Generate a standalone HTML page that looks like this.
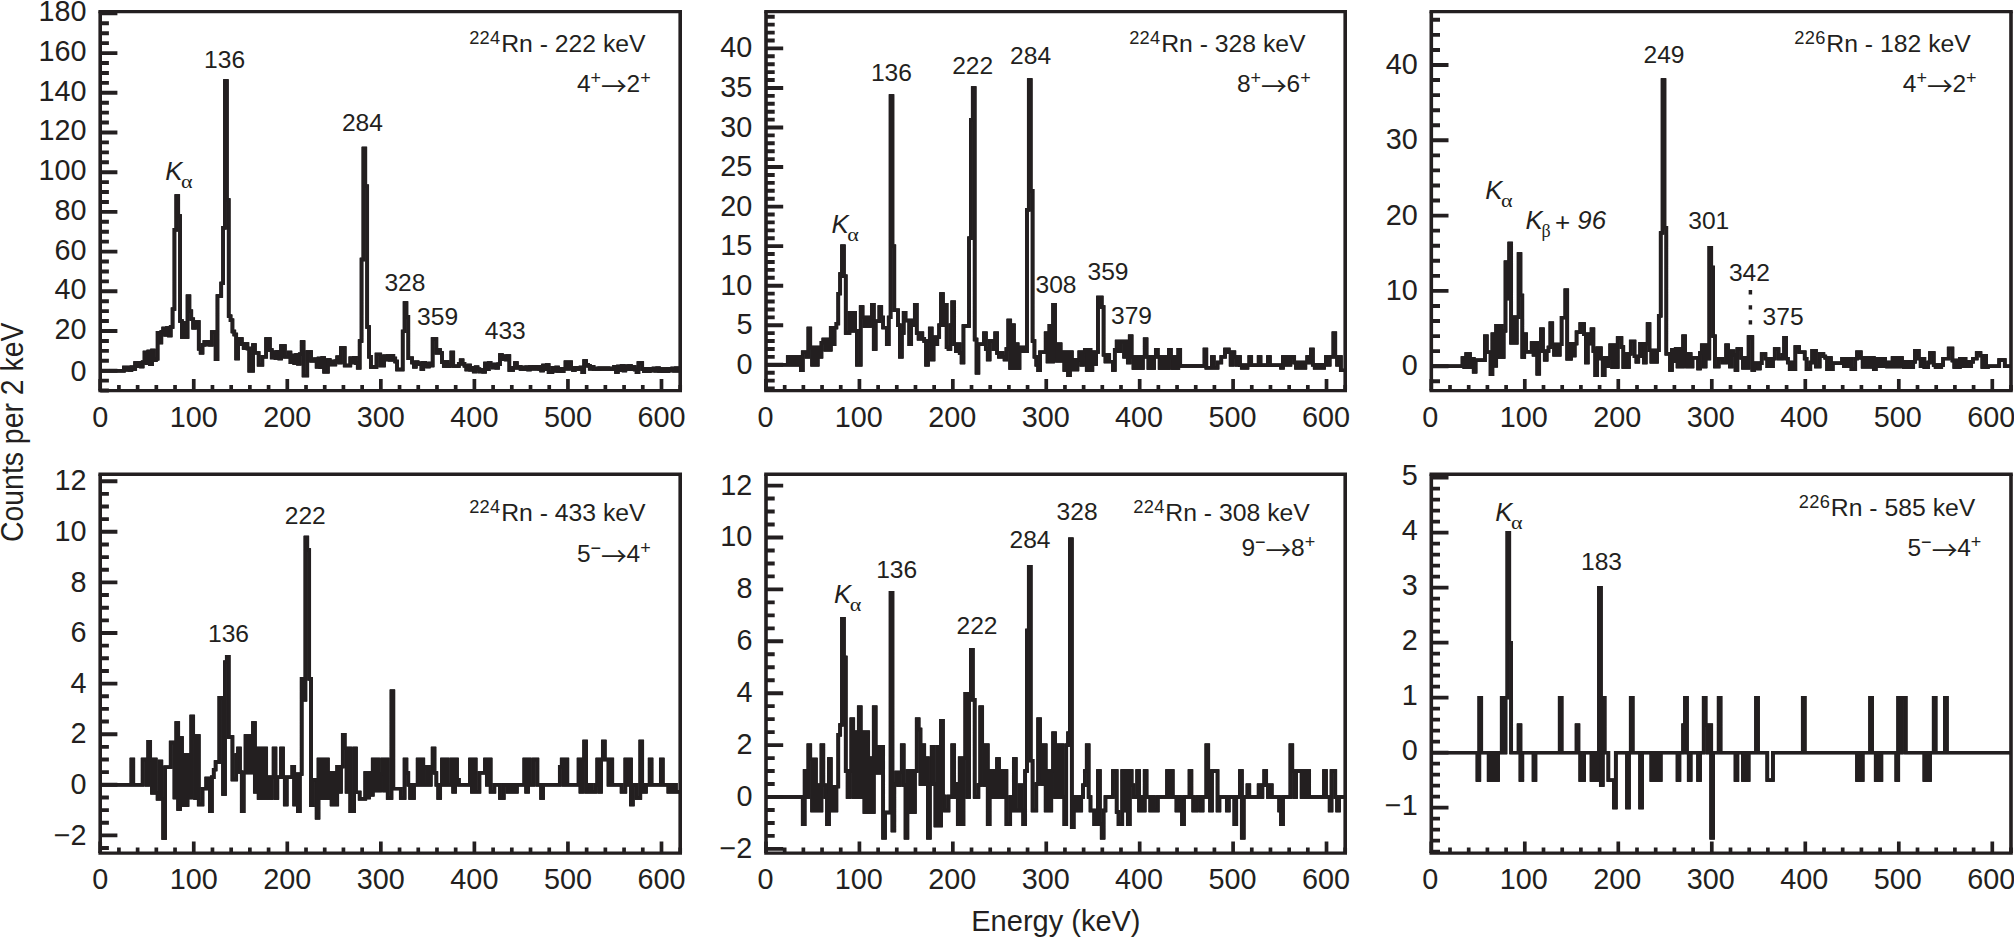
<!DOCTYPE html>
<html lang="en"><head><meta charset="utf-8"><title>Rn gamma-ray spectra</title>
<style>html,body{margin:0;padding:0;background:#fff}svg{display:block}</style></head>
<body>
<svg width="2014" height="937" viewBox="0 0 2014 937" font-family='"Liberation Sans", sans-serif' fill="#231f20">
<rect width="2014" height="937" fill="#fff"/>
<g id="p1"><path id="h1" d="M100.2 370.7H123.92V367.56H125.79V369.83H127.66V367.37H129.54V370.03H131.41V367.17H133.28V369.11H135.15V362.88H137.02V366.35H138.89V362.58H140.76V366.63H142.63V362.3H144.5V352.48H146.37V363.34H148.25V351.52H150.12V364.29H151.99V350.57H153.86V360.2H155.73V358.79H157.6V332.79H159.47V342.45H161.34V332.05H163.21V328.56H165.08V334.91H166.95V327.96H168.83V335.51H170.7V327.03H172.57V309.16H174.44V229.76H176.31V196.02H178.18V215.87H180.05V321.07H181.92V336.95H183.79V323.06H185.66V336.95H187.54V296.26H189.41V311.15H191.28V319.09H193.15V327.82H195.02V322.07H198.76V348.87H200.63V352.83H202.5V344.89H204.37V341.96H206.25V344.58H208.12V341.74H209.99V344.8H211.86V331.99H215.6V359.19H217.47V296.06H221.21V283.36H223.08V227.78H224.95V80.89H226.83V199.99H228.7V316.13H230.57V320.22H232.44V331.44H234.31V334.43H236.18V358.59H238.05V338.94H241.79V344.26H243.66V348.09H245.54V343.88H247.41V348.47H249.28V370.7H253.02V344.89H254.89V352.83H258.63V364.75H262.37V356.81H266.12V338.94H269.86V350.04H271.73V357.5H273.6V352.24H275.47V358.02H277.34V351.74H279.21V358.53H281.08V345.89H284.83V356.81H288.57V352.52H290.44V362.36H292.31V355.55H294.18V363.06H296.05V354.84H297.92V363.75H299.79V354.15H301.66V341.92H303.54V375.66H307.28V351.84H311.02V360.77H314.76V359.15H316.63V366.79H318.5V358.51H320.37V367.42H322.25V357.88H324.12V371.69H327.86V359.96H329.73V364.65H331.6V361.47H333.47V364.43H335.34V361.19H337.21V357.24H339.08V362.58H340.95V348.07H344.7V365.54H350.31V358.23H352.18V362.56H354.05V357.8H355.92V363H357.79V367.72H359.66V340.93H361.54V259.54H363.41V148.38H365.28V186.09H367.15V327.03H369.02V356.81H370.89V366.93H376.5V354.42H380.25V365.54H383.99V356.21H385.86V359.45H387.73V355.95H389.6V359.7H391.47V355.67H393.34V358.53H395.21V361.57H397.08V369.51H402.7V331.4H404.57V303.01H406.44V316.71H408.31V358.19H412.05V362.66H413.92V366.85H415.79V362.26H417.66V363.95H419.54V363.3H421.41V369.05H423.28V362.7H425.15V363.67H427.02V366.53H428.89V363.45H430.76V365.56H432.63V338.94H436.37V352.83H438.25V349.86H440.12V352.83H441.99V362.32H443.86V366.04H445.73V361.99H447.6V366.37H449.47V364.75H451.34V352.44H453.21V366.13H458.83V363.75H460.7V360.18H462.57V363.75H464.44V365.8H466.31V369.57H468.18V365.5H470.05V369.89H471.92V367.64H473.79V371.49H475.66V367.29H477.54V369.23H479.41V371.61H481.28V369.97H483.15V371.77H485.02V363.42H486.89V369.31H488.76V362.96H490.63V364.76H492.5V367.58H494.37V364.49H496.25V367.84H498.12V364.21H499.99V355.02H501.86V359.19H503.73V356.19H505.6V359.46H507.47V355.91H509.34V370.1H513.08V367.72H514.95V362.96H516.83V367.72H518.7V366.59H520.57V369.09H522.44V367.33H524.31V369.25H526.18V367.15H528.05V369.43H529.92V366.97H531.79V368.7H533.66V366.81H535.54V368.87H537.41V366.63H539.28V369.13H541.15V370.56H543.02V365.36H544.89V369.37H546.76V365H548.63V372.29H552.37V367.74H554.25V370.8H556.12V367.48H557.99V371.06H559.86V368.64H561.73V371.34H563.6V368.71H565.47V362.16H567.34V368.71H569.21V362.16H571.08V368.14H572.95V370.16H574.83V367.96H576.7V367.62H578.57V369.27H580.44V367.5H582.31V372.29H584.18V361.07H586.05V364.75H587.92V365.82H589.79V368.79H591.66V366.71H593.54V368.99H595.41V368.38H597.28V369.27H599.15V368.3H601.02V368.97H602.89V368.24H604.76V369.05H606.63V368.18H608.5V369.11H610.37V368.46H612.25V369.19H614.12V366.79H615.99V371.93H617.86V366.39H619.73V370.16H621.6V365.98H623.47V370.58H625.34V366.15H627.21V369.01H629.08V365.96H630.95V369.23H632.83V366.87H634.7V369.45H636.57V372.29H638.44V362.96H642.18V368.99H644.05V371.24H645.92V368.79H647.79V371.41H649.66V368.6H651.54V370.6H653.41V368.42H655.28V370.78H657.15V368.22H659.02V370.98H660.89V369.05H662.76V371.18H664.63V368.85H666.5V371.36H668.37V368.68H670.25V370.54H672.12V368.48H673.99V370.72H675.86V368.28H677.73V370.92H680.2" fill="none" stroke="#231f20" stroke-width="3.4" stroke-linejoin="miter" stroke-miterlimit="10"/><use href="#h1" x="-0.22"/><use href="#h1" x="0.22"/>
<path d="M100.2 390.6v-11.5M118.91 390.6v-5.5M137.62 390.6v-5.5M156.33 390.6v-5.5M175.04 390.6v-5.5M193.75 390.6v-11.5M212.46 390.6v-5.5M231.17 390.6v-5.5M249.88 390.6v-5.5M268.59 390.6v-5.5M287.3 390.6v-11.5M306.01 390.6v-5.5M324.72 390.6v-5.5M343.43 390.6v-5.5M362.14 390.6v-5.5M380.85 390.6v-11.5M399.55 390.6v-5.5M418.26 390.6v-5.5M436.97 390.6v-5.5M455.68 390.6v-5.5M474.39 390.6v-11.5M493.1 390.6v-5.5M511.81 390.6v-5.5M530.52 390.6v-5.5M549.23 390.6v-5.5M567.94 390.6v-11.5M586.65 390.6v-5.5M605.36 390.6v-5.5M624.07 390.6v-5.5M642.78 390.6v-5.5M661.49 390.6v-11.5M680.2 390.6v-5.5" fill="none" stroke="#231f20" stroke-width="3.7"/><path d="M100.2 390.55h8.7M100.2 380.62h8.7M100.2 370.7h17.2M100.2 360.77h8.7M100.2 350.85h8.7M100.2 340.93h8.7M100.2 331h17.2M100.2 321.07h8.7M100.2 311.15h8.7M100.2 301.22h8.7M100.2 291.3h17.2M100.2 281.38h8.7M100.2 271.45h8.7M100.2 261.52h8.7M100.2 251.6h17.2M100.2 241.67h8.7M100.2 231.75h8.7M100.2 221.82h8.7M100.2 211.9h17.2M100.2 201.97h8.7M100.2 192.05h8.7M100.2 182.12h8.7M100.2 172.2h17.2M100.2 162.27h8.7M100.2 152.35h8.7M100.2 142.42h8.7M100.2 132.5h17.2M100.2 122.57h8.7M100.2 112.65h8.7M100.2 102.72h8.7M100.2 92.8h17.2M100.2 82.88h8.7M100.2 72.95h8.7M100.2 63.02h8.7M100.2 53.1h17.2M100.2 43.17h8.7M100.2 33.25h8.7M100.2 23.32h8.7M100.2 13.4h17.2" fill="none" stroke="#231f20" stroke-width="3.9"/>
<path d="M98.4 11.6H682M98.4 390.6H682" fill="none" stroke="#231f20" stroke-width="3.4"/><path d="M100.2 11.6V390.6M680.2 11.6V390.6" fill="none" stroke="#231f20" stroke-width="3.6"/>
<g font-size="28.8"><text x="100.2" y="427.2" text-anchor="middle">0</text><text x="193.75" y="427.2" text-anchor="middle">100</text><text x="287.3" y="427.2" text-anchor="middle">200</text><text x="380.85" y="427.2" text-anchor="middle">300</text><text x="474.39" y="427.2" text-anchor="middle">400</text><text x="567.94" y="427.2" text-anchor="middle">500</text><text x="661.49" y="427.2" text-anchor="middle">600</text><text x="86.6" y="380.6" text-anchor="end">0</text><text x="86.6" y="338.9" text-anchor="end">20</text><text x="86.6" y="299.2" text-anchor="end">40</text><text x="86.6" y="259.5" text-anchor="end">60</text><text x="86.6" y="219.8" text-anchor="end">80</text><text x="86.6" y="180.1" text-anchor="end">100</text><text x="86.6" y="140.4" text-anchor="end">120</text><text x="86.6" y="100.7" text-anchor="end">140</text><text x="86.6" y="61" text-anchor="end">160</text><text x="86.6" y="21.3" text-anchor="end">180</text></g></g>
<g id="p2"><path id="h2" d="M766 364.8H787.82V356.89H789.69V364.8H791.56V356.89H793.43V364.8H795.29V356.89H797.16V364.8H799.03V356.89H800.9V370.34H802.77V352.14H806.5V356.89H808.37V328.41H810.24V347.4H812.11V364.8H813.98V347.4H815.85V364.8H817.71V347.4H819.58V356.89H821.45V342.65H823.32V339.49H825.19V349.77H827.06V339.49H828.93V349.77H830.79V327.62H832.66V344.23H834.53V327.62H836.4V323.67H838.27V293.61H840.14V273.84H842V246.15H843.87V276.21H845.74V333.16H849.48V312.59H851.35V330.79H853.21V312.59H855.08V330.79H856.95V364.8H860.69V307.06H862.56V317.34H864.42V326.04H866.29V317.34H868.16V326.04H870.03V317.34H871.9V304.68H873.77V348.98H875.63V321.3H879.37V307.06H881.24V317.34H883.11V327.62H886.85V344.23H888.71V317.34H890.58V95.86H892.45V246.15H894.32V310.22H898.06V325.25H899.92V356.89H901.79V333.16H903.66V312.59H905.53V320.5H909.27V344.23H911.13V320.5H913V325.25H914.87V304.68H916.74V333.16H918.61V338.7H920.48V333.16H922.34V338.7H924.21V341.07H926.08V364.8H927.95V341.07H929.82V328.41H931.69V359.66H933.55V337.12H935.42V344.23H937.29V337.12H939.16V325.25H941.03V294.01H942.9V325.25H944.77V304.68H946.63V347.4H948.5V348.98H950.37V325.25H952.24V302.31H954.11V344.23H955.98V351.35H957.84V344.23H959.71V352.94H961.58V362.43H963.45V326.04H969.05V238.24H970.92V119.59H972.79V87.95H974.66V339.49H976.53V372.71H978.4V344.23H984V333.16H985.87V348.98H987.74V359.66H989.61V341.07H993.34V348.98H995.21V333.16H997.08V352.94H998.95V356.89H1000.82V352.94H1002.69V356.89H1004.55V359.66H1006.42V348.98H1008.29V320.5H1010.16V367.96H1012.03V325.25H1013.9V367.96H1015.76V344.23H1017.63V367.96H1019.5V347.4H1021.37V351.35H1023.24V347.4H1025.11V351.35H1026.97V209.76H1028.84V80.04H1030.71V190.78H1032.58V341.07H1034.45V356.89H1036.32V364.8H1038.18V370.34H1040.05V352.14H1045.66V333.16H1047.53V361.64H1049.39V325.72H1051.26V361.64H1053.13V304.68H1055V344.23H1056.87V360.85H1058.74V344.23H1060.61V360.85H1062.47V352.14H1064.34V370.1H1066.21V352.14H1068.08V375.32H1069.95V352.14H1071.82V369.55H1073.68V360.05H1075.55V369.55H1077.42V360.05H1079.29V352.14H1081.16V364.8H1083.03V352.14H1084.89V349.77H1086.76V370.1H1088.63V349.77H1090.5V370.1H1092.37V352.14H1094.24V364.01H1096.1V352.14H1097.97V297.56H1101.71V307.06H1103.58V354.83H1105.45V361.64H1107.31V354.83H1109.18V361.64H1112.92V370.1H1114.79V349.77H1116.66V341.47H1118.53V351.35H1120.39V341.47H1124.13V356.89H1126V341.47H1127.87V362.43H1129.74V336.32H1131.6V356.89H1133.47V367.96H1135.34V356.89H1137.21V367.96H1139.08V356.89H1140.95V367.96H1142.81V356.89H1144.68V339.17H1146.55V356.89H1148.42V367.96H1150.29V356.89H1152.16V367.96H1154.02V356.89H1155.89V349.77H1157.76V356.89H1159.63V367.96H1161.5V356.89H1163.37V367.96H1165.23V356.89H1167.1V367.96H1168.97V349.77H1170.84V356.89H1172.71V367.96H1174.58V356.89H1176.45V367.96H1178.31V349.77H1180.18V365.99H1204.47V349.38H1206.34V367.73H1211.94V356.89H1213.81V367.73H1217.55V362.43H1221.29V356.89H1225.02V349.38H1228.76V352.14H1230.63V364.8H1232.5V352.14H1234.37V356.89H1236.23V364.8H1238.1V356.89H1239.97V365.2H1241.84V367.73H1243.71V365.2H1245.58V367.73H1247.44V365.2H1249.31V356.89H1251.18V365.2H1258.65V356.89H1260.52V365.2H1268V356.89H1269.86V365.2H1281.07V367.73H1282.94V356.89H1284.81V364.8H1286.68V356.89H1288.55V364.8H1290.42V356.89H1294.15V362.43H1296.02V367.73H1297.89V362.43H1299.76V367.73H1301.63V362.43H1303.5V367.73H1305.36V362.43H1307.23V356.89H1309.1V362.43H1310.97V349.38H1312.84V364.8H1314.71V367.73H1316.57V364.8H1318.44V367.73H1320.31V364.8H1322.18V367.73H1324.05V364.8H1325.92V356.89H1327.78V364.8H1329.65V356.89H1333.39V333.16H1335.26V356.89H1337.13V364.8H1338.99V356.89H1340.86V370.34H1345.2" fill="none" stroke="#231f20" stroke-width="3.4" stroke-linejoin="miter" stroke-miterlimit="10"/><use href="#h2" x="-0.22"/><use href="#h2" x="0.22"/>
<path d="M766 390.6v-11.5M784.68 390.6v-5.5M803.37 390.6v-5.5M822.05 390.6v-5.5M840.74 390.6v-5.5M859.42 390.6v-11.5M878.1 390.6v-5.5M896.79 390.6v-5.5M915.47 390.6v-5.5M934.15 390.6v-5.5M952.84 390.6v-11.5M971.52 390.6v-5.5M990.21 390.6v-5.5M1008.89 390.6v-5.5M1027.57 390.6v-5.5M1046.26 390.6v-11.5M1064.94 390.6v-5.5M1083.63 390.6v-5.5M1102.31 390.6v-5.5M1120.99 390.6v-5.5M1139.68 390.6v-11.5M1158.36 390.6v-5.5M1177.05 390.6v-5.5M1195.73 390.6v-5.5M1214.41 390.6v-5.5M1233.1 390.6v-11.5M1251.78 390.6v-5.5M1270.46 390.6v-5.5M1289.15 390.6v-5.5M1307.83 390.6v-5.5M1326.52 390.6v-11.5M1345.2 390.6v-5.5" fill="none" stroke="#231f20" stroke-width="3.7"/><path d="M766 388.53h8.7M766 380.62h8.7M766 372.71h8.7M766 364.8h17.2M766 356.89h8.7M766 348.98h8.7M766 341.07h8.7M766 333.16h8.7M766 325.25h17.2M766 317.34h8.7M766 309.43h8.7M766 301.52h8.7M766 293.61h8.7M766 285.7h17.2M766 277.79h8.7M766 269.88h8.7M766 261.97h8.7M766 254.06h8.7M766 246.15h17.2M766 238.24h8.7M766 230.33h8.7M766 222.42h8.7M766 214.51h8.7M766 206.6h17.2M766 198.69h8.7M766 190.78h8.7M766 182.87h8.7M766 174.96h8.7M766 167.05h17.2M766 159.14h8.7M766 151.23h8.7M766 143.32h8.7M766 135.41h8.7M766 127.5h17.2M766 119.59h8.7M766 111.68h8.7M766 103.77h8.7M766 95.86h8.7M766 87.95h17.2M766 80.04h8.7M766 72.13h8.7M766 64.22h8.7M766 56.31h8.7M766 48.4h17.2M766 40.49h8.7M766 32.58h8.7M766 24.67h8.7M766 16.76h8.7" fill="none" stroke="#231f20" stroke-width="3.9"/>
<path d="M764.2 11.6H1347M764.2 390.6H1347" fill="none" stroke="#231f20" stroke-width="3.4"/><path d="M766 11.6V390.6M1345.2 11.6V390.6" fill="none" stroke="#231f20" stroke-width="3.6"/>
<g font-size="28.8"><text x="765.4" y="427.2" text-anchor="middle">0</text><text x="858.82" y="427.2" text-anchor="middle">100</text><text x="952.24" y="427.2" text-anchor="middle">200</text><text x="1045.66" y="427.2" text-anchor="middle">300</text><text x="1139.08" y="427.2" text-anchor="middle">400</text><text x="1232.5" y="427.2" text-anchor="middle">500</text><text x="1325.92" y="427.2" text-anchor="middle">600</text><text x="752.4" y="373.8" text-anchor="end">0</text><text x="752.4" y="334.25" text-anchor="end">5</text><text x="752.4" y="294.7" text-anchor="end">10</text><text x="752.4" y="255.15" text-anchor="end">15</text><text x="752.4" y="215.6" text-anchor="end">20</text><text x="752.4" y="176.05" text-anchor="end">25</text><text x="752.4" y="136.5" text-anchor="end">30</text><text x="752.4" y="96.95" text-anchor="end">35</text><text x="752.4" y="57.4" text-anchor="end">40</text></g></g>
<g id="p3"><path id="h3" d="M1431.3 366.2H1462.49V358.07H1464.36V367.4H1466.23V353.85H1469.97V367.4H1471.84V358.67H1473.71V371.7H1475.58V360.18H1484.93V336.08H1486.8V352.12H1490.54V374.26H1492.41V334.2H1494.28V365.75H1496.15V325.69H1498.02V357.16H1499.89V325.69H1501.76V357.16H1503.63V330.81H1505.5V262.29H1507.37V298.43H1509.24V243.46H1511.11V342.86H1512.98V317.25H1514.85V342.86H1516.72V317.25H1518.59V254H1520.46V295.42H1522.33V357.16H1524.2V334.2H1526.07V351.89H1531.68V342.86H1533.55V354.9H1535.42V342.86H1537.29V373.73H1539.16V351.14H1541.03V329.3H1542.9V351.14H1544.77V359.72H1546.64V351.14H1548.51V347.38H1550.38V323.28H1552.25V344.36H1554.12V354.9H1555.99V344.36H1557.86V354.9H1559.73V344.36H1561.6V317.63H1565.34V290.15H1567.21V358.9H1570.95V343.61H1572.82V355.66H1574.69V343.61H1576.56V332.31H1580.3V324.03H1584.04V334.2H1585.91V362.44H1587.78V334.2H1589.65V343.61H1591.52V329.3H1593.39V351.14H1595.26V375.24H1597.13V348.13H1600.87V358.67H1602.74V375.24H1604.61V357.92H1606.48V366.2H1608.35V357.92H1610.22V345.12H1612.09V366.95H1613.96V345.12H1615.83V366.95H1617.7V337.96H1621.44V347H1623.31V366.95H1625.18V353.85H1627.05V366.95H1628.92V353.85H1630.79V341.35H1634.53V356.41H1636.4V361.68H1638.27V356.41H1640.14V343.61H1643.88V362.44H1645.75V343.61H1647.62V324.03H1649.49V350.39H1651.36V361.68H1653.23V350.39H1655.1V361.68H1656.97V350.39H1658.84V315.75H1660.71V232.92H1662.58V80.06H1664.45V227.65H1666.32V353.85H1670.06V369.96H1671.93V349.63H1673.8V360.93H1675.67V348.88H1677.54V366.58H1679.41V348.88H1681.28V366.58H1683.15V336.08H1685.02V353.85H1686.89V366.58H1688.76V353.85H1690.63V366.58H1692.5V357.92H1698.11V368.46H1699.98V352.95H1701.85V345.27H1703.72V366.58H1705.59V345.27H1707.46V358.67H1709.33V247.6H1711.2V267.56H1713.07V336.08H1714.94V366.58H1718.68V358.67H1722.42V362.44H1726.16V345.12H1728.03V351.14H1729.9V366.58H1731.77V351.14H1733.64V354.9H1735.51V369.96H1737.38V348.88H1741.12V357.92H1742.99V367.71H1744.86V357.92H1746.73V367.71H1748.6V336.83H1752.34V369.96H1754.21V363.19H1757.95V368.46H1759.82V363.19H1761.69V353.85H1765.43V358.67H1767.3V366.2H1769.17V358.67H1771.04V366.2H1772.91V358.67H1774.78V348.88H1778.52V358.67H1782.26V354.9H1784.13V337.59H1786V358.67H1787.87V362.44H1789.74V369.21H1791.61V362.44H1793.48V369.21H1795.35V347H1799.09V352.12H1804.7V358.67H1806.57V369.21H1810.31V362.44H1812.18V350.76H1815.92V366.58H1819.66V353.85H1823.4V356.41H1825.27V357.92H1827.14V369.21H1829.01V357.92H1830.88V369.21H1832.75V363.19H1842.1V358.67H1843.97V366.2H1845.84V358.67H1847.71V366.2H1849.58V358.67H1851.45V369.21H1855.19V358.67H1857.06V352.27H1860.8V357.92H1862.67V366.73H1864.54V357.92H1866.41V366.73H1868.28V357.92H1870.15V366.73H1872.02V357.92H1873.89V369.21H1875.76V358.67H1877.63V366.2H1879.5V358.67H1881.37V366.2H1883.24V358.67H1885.11V362.44H1886.98V366.58H1888.85V362.44H1890.72V366.58H1892.59V357.92H1894.46V366.58H1896.33V357.92H1898.2V366.58H1900.07V357.92H1901.94V361.68H1903.81V366.95H1905.68V361.68H1907.55V366.95H1909.42V361.68H1911.29V366.95H1913.16V361.68H1915.03V350.76H1918.77V358.67H1920.64V366.2H1922.51V358.67H1924.38V367.33H1928.12V362.44H1929.99V352.87H1933.73V365.07H1935.6V366.95H1937.47V365.07H1939.34V366.95H1941.21V365.07H1943.08V358.67H1948.69V348.43H1952.43V360.55H1954.3V366.95H1956.17V360.55H1958.04V366.95H1959.91V358.67H1961.78V366.2H1963.65V358.67H1965.52V366.2H1967.39V361.68H1969.26V366.2H1971.13V361.68H1973V358.67H1976.74V352.87H1980.48V355.66H1982.35V366.95H1984.22V355.66H1986.09V366.95H1987.96V366.2H1999.18V359.95H2004.79V366.2H2011" fill="none" stroke="#231f20" stroke-width="3.4" stroke-linejoin="miter" stroke-miterlimit="10"/><use href="#h3" x="-0.22"/><use href="#h3" x="0.22"/>
<path d="M1431.3 390.6v-11.5M1450 390.6v-5.5M1468.7 390.6v-5.5M1487.4 390.6v-5.5M1506.1 390.6v-5.5M1524.8 390.6v-11.5M1543.5 390.6v-5.5M1562.2 390.6v-5.5M1580.9 390.6v-5.5M1599.6 390.6v-5.5M1618.3 390.6v-11.5M1637 390.6v-5.5M1655.7 390.6v-5.5M1674.4 390.6v-5.5M1693.1 390.6v-5.5M1711.8 390.6v-11.5M1730.5 390.6v-5.5M1749.2 390.6v-5.5M1767.9 390.6v-5.5M1786.6 390.6v-5.5M1805.3 390.6v-11.5M1824 390.6v-5.5M1842.7 390.6v-5.5M1861.4 390.6v-5.5M1880.1 390.6v-5.5M1898.8 390.6v-11.5M1917.5 390.6v-5.5M1936.2 390.6v-5.5M1954.9 390.6v-5.5M1973.6 390.6v-5.5M1992.3 390.6v-11.5M2011 390.6v-5.5" fill="none" stroke="#231f20" stroke-width="3.7"/><path d="M1431.3 381.26h8.7M1431.3 366.2h17.2M1431.3 351.14h8.7M1431.3 336.08h8.7M1431.3 321.02h8.7M1431.3 305.96h8.7M1431.3 290.9h17.2M1431.3 275.84h8.7M1431.3 260.78h8.7M1431.3 245.72h8.7M1431.3 230.66h8.7M1431.3 215.6h17.2M1431.3 200.54h8.7M1431.3 185.48h8.7M1431.3 170.42h8.7M1431.3 155.36h8.7M1431.3 140.3h17.2M1431.3 125.24h8.7M1431.3 110.18h8.7M1431.3 95.12h8.7M1431.3 80.06h8.7M1431.3 65h17.2M1431.3 49.94h8.7M1431.3 34.88h8.7M1431.3 19.82h8.7" fill="none" stroke="#231f20" stroke-width="3.9"/>
<path d="M1429.5 11.6H2012.8M1429.5 390.6H2012.8" fill="none" stroke="#231f20" stroke-width="3.4"/><path d="M1431.3 11.6V390.6M2011 11.6V390.6" fill="none" stroke="#231f20" stroke-width="3.6"/>
<g font-size="28.8"><text x="1430.2" y="427.2" text-anchor="middle">0</text><text x="1523.7" y="427.2" text-anchor="middle">100</text><text x="1617.2" y="427.2" text-anchor="middle">200</text><text x="1710.7" y="427.2" text-anchor="middle">300</text><text x="1804.2" y="427.2" text-anchor="middle">400</text><text x="1897.7" y="427.2" text-anchor="middle">500</text><text x="1991.2" y="427.2" text-anchor="middle">600</text><text x="1417.7" y="375.2" text-anchor="end">0</text><text x="1417.7" y="299.9" text-anchor="end">10</text><text x="1417.7" y="224.6" text-anchor="end">20</text><text x="1417.7" y="149.3" text-anchor="end">30</text><text x="1417.7" y="74" text-anchor="end">40</text></g></g>
<g id="p4"><path id="h4" d="M100.2 784.8H131.41V759.5H133.28V784.8H142.63V759.5H146.37V784.8H148.25V741.79H150.12V759.5H151.99V792.9H153.86V759.5H155.73V792.9H157.6V798.71H159.47V761.52H161.34V798.71H163.21V837.93H165.08V767.09H170.7V742.55H174.44V797.45H176.31V723.07H178.18V809.09H180.05V737.99H181.92V805.04H183.79V754.95H185.66V805.04H187.54V754.95H189.41V797.45H191.28V716.49H193.15V735.97H195.02V797.96H196.89V735.97H198.76V804.53H202.5V788.59H206.25V778.47H209.99V811.37H211.86V777.21H213.73V769.62H215.6V762.03H219.34V697.77H223.08V794.16H224.95V662.09H226.83V656.78H228.7V736.98H232.44V779.49H236.18V754.95H238.05V748.37H239.92V772.15H241.79V811.37H243.66V772.66H245.54V735.97H247.41V772.66H249.28V735.97H251.15V772.66H253.02V723.07H254.89V791.88H256.76V748.37H258.63V797.96H260.5V748.37H262.37V797.96H264.25V748.37H266.12V797.96H267.99V777.21H269.86V797.96H271.73V777.21H273.6V748.37H275.47V797.96H277.34V777.21H281.08V748.37H282.95V777.21H284.83V804.53H286.7V777.21H292.31V766.58H294.18V804.53H296.05V774.17H297.92V811.37H299.79V774.17H301.66V678.79H303.54V699.79H305.41V537.37H307.28V550.02H309.15V678.79H311.02V805.29H312.89V779.74H316.63V817.69H318.5V759.5H320.37V797.96H322.25V759.5H324.12V797.96H325.99V759.5H327.86V797.96H329.73V772.91H331.6V804.53H333.47V772.91H335.34V804.53H337.21V766.58H339.08V791.88H340.95V766.58H342.83V734.71H344.7V748.37H346.57V791.88H348.44V748.37H350.31V811.37H354.05V748.37H355.92V792.39H359.66V798.71H365.28V772.91H367.15V797.45H369.02V772.91H370.89V794.92H372.76V759.5H374.63V790.62H376.5V759.5H378.37V790.62H380.25V774.17H382.12V759.5H383.99V790.62H385.86V759.5H387.73V797.96H391.47V691.19H393.34V788.59H400.83V797.96H404.57V759.5H406.44V772.91H408.31V784.8H410.18V797.96H413.92V784.8H417.66V759.5H419.54V784.8H421.41V759.5H423.28V784.8H427.02V766.58H428.89V784.8H430.76V772.15H432.63V748.37H434.5V772.91H436.37V784.8H438.25V797.96H440.12V784.8H441.99V759.5H443.86V784.8H445.73V759.5H447.6V784.8H451.34V759.5H453.21V791.88H455.08V759.5H456.95V779.74H458.83V784.8H470.05V759.5H471.92V791.88H473.79V759.5H475.66V791.88H479.41V772.91H485.02V759.5H486.89V784.8H488.76V759.5H490.63V791.88H494.37V784.8H499.99V797.96H503.73V784.8H507.47V791.88H509.34V784.8H511.21V791.88H513.08V784.8H514.95V791.88H516.83V784.8H524.31V759.5H526.18V791.88H528.05V759.5H529.92V784.8H533.66V759.5H537.41V784.8H541.15V797.96H543.02V784.8H559.86V766.58H561.73V759.5H563.6V784.8H565.47V759.5H567.34V784.8H578.57V759.5H580.44V791.88H582.31V759.5H584.18V741.54H586.05V791.88H589.79V784.8H591.66V791.88H595.41V784.8H597.28V759.5H599.15V791.88H601.02V759.5H602.89V741.54H604.76V759.5H608.5V784.8H610.37V759.5H612.25V784.8H621.6V791.88H625.34V759.5H627.21V784.8H629.08V759.5H630.95V804.53H632.83V784.8H636.57V797.96H640.31V741.54H642.18V791.88H645.92V784.8H649.66V759.5H651.54V784.8H660.89V759.5H662.76V784.8H668.37V791.88H670.25V784.8H672.12V791.88H673.99V784.8H675.86V791.88H680.2" fill="none" stroke="#231f20" stroke-width="3.4" stroke-linejoin="miter" stroke-miterlimit="10"/><use href="#h4" x="-0.22"/><use href="#h4" x="0.22"/>
<path d="M100.2 853.1v-11.5M118.91 853.1v-5.5M137.62 853.1v-5.5M156.33 853.1v-5.5M175.04 853.1v-5.5M193.75 853.1v-11.5M212.46 853.1v-5.5M231.17 853.1v-5.5M249.88 853.1v-5.5M268.59 853.1v-5.5M287.3 853.1v-11.5M306.01 853.1v-5.5M324.72 853.1v-5.5M343.43 853.1v-5.5M362.14 853.1v-5.5M380.85 853.1v-11.5M399.55 853.1v-5.5M418.26 853.1v-5.5M436.97 853.1v-5.5M455.68 853.1v-5.5M474.39 853.1v-11.5M493.1 853.1v-5.5M511.81 853.1v-5.5M530.52 853.1v-5.5M549.23 853.1v-5.5M567.94 853.1v-11.5M586.65 853.1v-5.5M605.36 853.1v-5.5M624.07 853.1v-5.5M642.78 853.1v-5.5M661.49 853.1v-11.5M680.2 853.1v-5.5" fill="none" stroke="#231f20" stroke-width="3.7"/><path d="M100.2 848.05h8.7M100.2 835.4h17.2M100.2 822.75h8.7M100.2 810.1h8.7M100.2 797.45h8.7M100.2 784.8h17.2M100.2 772.15h8.7M100.2 759.5h8.7M100.2 746.85h8.7M100.2 734.2h17.2M100.2 721.55h8.7M100.2 708.9h8.7M100.2 696.25h8.7M100.2 683.6h17.2M100.2 670.95h8.7M100.2 658.3h8.7M100.2 645.65h8.7M100.2 633h17.2M100.2 620.35h8.7M100.2 607.7h8.7M100.2 595.05h8.7M100.2 582.4h17.2M100.2 569.75h8.7M100.2 557.1h8.7M100.2 544.45h8.7M100.2 531.8h17.2M100.2 519.15h8.7M100.2 506.5h8.7M100.2 493.85h8.7M100.2 481.2h17.2" fill="none" stroke="#231f20" stroke-width="3.9"/>
<path d="M98.4 474.2H682M98.4 853.1H682" fill="none" stroke="#231f20" stroke-width="3.4"/><path d="M100.2 474.2V853.1M680.2 474.2V853.1" fill="none" stroke="#231f20" stroke-width="3.6"/>
<g font-size="28.8"><text x="100.2" y="889.1" text-anchor="middle">0</text><text x="193.75" y="889.1" text-anchor="middle">100</text><text x="287.3" y="889.1" text-anchor="middle">200</text><text x="380.85" y="889.1" text-anchor="middle">300</text><text x="474.39" y="889.1" text-anchor="middle">400</text><text x="567.94" y="889.1" text-anchor="middle">500</text><text x="661.49" y="889.1" text-anchor="middle">600</text><text x="86.6" y="844.6" text-anchor="end">−2</text><text x="86.6" y="794" text-anchor="end">0</text><text x="86.6" y="743.4" text-anchor="end">2</text><text x="86.6" y="692.8" text-anchor="end">4</text><text x="86.6" y="642.2" text-anchor="end">6</text><text x="86.6" y="591.6" text-anchor="end">8</text><text x="86.6" y="541" text-anchor="end">10</text><text x="86.6" y="490.4" text-anchor="end">12</text></g></g>
<g id="p5"><path id="h5" d="M766 797H802.77V824.25H804.64V771.05H806.5V797H808.37V745.1H810.24V759.37H812.11V810.49H813.98V759.37H815.85V810.49H817.71V785.32H819.58V810.49H821.45V745.1H823.32V785.32H825.19V797H827.06V824.25H828.93V758.85H830.79V810.49H832.66V786.62H834.53V810.49H836.4V786.62H838.27V734.72H840.14V724.86H842V618.72H843.87V657.39H845.74V771.05H847.61V797H849.48V771.05H851.35V719.15H853.21V797H855.08V732.12H856.95V797H858.82V707.21H860.69V797H862.56V732.12H864.42V812.05H866.29V732.12H868.16V812.05H870.03V758.08H871.9V812.05H873.77V707.21H875.63V772.87H877.5V746.66H879.37V772.87H881.24V746.66H883.11V837.74H884.98V812.57H890.58V592.77H892.45V830.48H894.32V784.02H896.19V772.35H898.06V785.06H899.92V772.35H901.79V745.1H903.66V785.06H905.53V837.74H907.4V771.05H909.27V812.05H911.13V771.05H913V812.05H914.87V771.05H916.74V719.15H918.61V729.53H920.48V784.02H922.34V745.1H924.21V784.02H926.08V758.08H927.95V837.74H929.82V784.02H931.69V746.66H933.55V784.02H935.42V825.54H937.29V746.66H939.16V825.54H941.03V720.71H942.9V796.48H944.77V810.49H948.5V796.48H950.37V797H952.24V745.1H954.11V797H955.98V784.02H957.84V824.25H959.71V758.08H961.58V824.25H963.45V758.08H965.32V693.72H967.19V797H969.05V693.72H970.92V649.6H972.79V699.69H974.66V797H978.4V785.06H980.26V707.21H982.13V745.1H984V785.06H985.87V745.1H987.74V824.25H989.61V771.05H991.47V797H993.34V771.05H995.21V797H997.08V758.85H998.95V797H1000.82V771.05H1002.69V797H1004.55V771.05H1006.42V824.25H1010.16V797H1012.03V810.49H1013.9V758.85H1015.76V810.49H1019.5V785.32H1021.37V810.49H1023.24V824.25H1025.11V771.05H1026.97V630.4H1028.84V566.82H1030.71V760.67H1032.58V810.49H1036.32V784.02H1038.18V719.15H1040.05V745.1H1041.92V784.02H1043.79V745.1H1045.66V810.49H1047.53V771.05H1049.39V810.49H1051.26V771.05H1053.13V733.16H1055V797H1056.87V745.1H1058.74V797H1060.61V745.1H1062.47V797H1064.34V824.25H1066.21V745.1H1068.08V733.16H1069.95V539.32H1071.82V827.36H1073.68V797H1075.55V810.49H1077.42V797H1079.29V810.49H1081.16V797H1083.03V785.32H1084.89V771.05H1086.76V745.1H1088.63V797H1090.5V810.49H1094.24V824.25H1097.97V771.05H1099.84V824.25H1101.71V837.74H1103.58V810.49H1105.45V797H1112.92V771.05H1116.66V812.05H1118.53V824.25H1122.26V771.05H1124.13V810.49H1126V771.05H1127.87V824.25H1129.74V771.05H1131.6V785.32H1133.47V797H1137.21V771.05H1139.08V810.49H1140.95V797H1142.81V810.49H1144.68V771.05H1146.55V797H1150.29V810.49H1152.16V797H1154.02V810.49H1157.76V797H1167.1V771.05H1168.97V797H1170.84V771.05H1172.71V797H1176.45V810.49H1178.31V797H1180.18V810.49H1182.05V824.25H1183.92V797H1189.52V771.05H1191.39V797H1193.26V810.49H1197V797H1200.73V810.49H1202.6V797H1206.34V745.1H1208.21V797H1210.08V810.49H1211.94V771.05H1217.55V810.49H1219.42V797H1226.89V810.49H1228.76V797H1234.37V824.25H1236.23V797H1239.97V771.05H1241.84V837.74H1243.71V797H1247.44V785.32H1249.31V797H1258.65V785.32H1260.52V797H1262.39V785.32H1264.26V771.05H1266.13V785.32H1268V797H1269.86V785.32H1271.73V797H1279.21V810.49H1281.07V824.25H1282.94V797H1290.42V745.1H1292.29V771.05H1294.15V797H1296.02V771.05H1301.63V797H1303.5V771.05H1305.36V797H1307.23V771.05H1309.1V797H1324.05V771.05H1325.92V797H1329.65V810.49H1331.52V771.05H1335.26V797H1337.13V810.49H1338.99V797H1345.2" fill="none" stroke="#231f20" stroke-width="3.4" stroke-linejoin="miter" stroke-miterlimit="10"/><use href="#h5" x="-0.22"/><use href="#h5" x="0.22"/>
<path d="M766 853.1v-11.5M784.68 853.1v-5.5M803.37 853.1v-5.5M822.05 853.1v-5.5M840.74 853.1v-5.5M859.42 853.1v-11.5M878.1 853.1v-5.5M896.79 853.1v-5.5M915.47 853.1v-5.5M934.15 853.1v-5.5M952.84 853.1v-11.5M971.52 853.1v-5.5M990.21 853.1v-5.5M1008.89 853.1v-5.5M1027.57 853.1v-5.5M1046.26 853.1v-11.5M1064.94 853.1v-5.5M1083.63 853.1v-5.5M1102.31 853.1v-5.5M1120.99 853.1v-5.5M1139.68 853.1v-11.5M1158.36 853.1v-5.5M1177.05 853.1v-5.5M1195.73 853.1v-5.5M1214.41 853.1v-5.5M1233.1 853.1v-11.5M1251.78 853.1v-5.5M1270.46 853.1v-5.5M1289.15 853.1v-5.5M1307.83 853.1v-5.5M1326.52 853.1v-11.5M1345.2 853.1v-5.5" fill="none" stroke="#231f20" stroke-width="3.7"/><path d="M766 848.9h17.2M766 835.92h8.7M766 822.95h8.7M766 809.98h8.7M766 797h17.2M766 784.02h8.7M766 771.05h8.7M766 758.08h8.7M766 745.1h17.2M766 732.12h8.7M766 719.15h8.7M766 706.17h8.7M766 693.2h17.2M766 680.23h8.7M766 667.25h8.7M766 654.27h8.7M766 641.3h17.2M766 628.33h8.7M766 615.35h8.7M766 602.38h8.7M766 589.4h17.2M766 576.42h8.7M766 563.45h8.7M766 550.48h8.7M766 537.5h17.2M766 524.53h8.7M766 511.55h8.7M766 498.57h8.7M766 485.6h17.2" fill="none" stroke="#231f20" stroke-width="3.9"/>
<path d="M764.2 474.2H1347M764.2 853.1H1347" fill="none" stroke="#231f20" stroke-width="3.4"/><path d="M766 474.2V853.1M1345.2 474.2V853.1" fill="none" stroke="#231f20" stroke-width="3.6"/>
<g font-size="28.8"><text x="765.4" y="889.1" text-anchor="middle">0</text><text x="858.82" y="889.1" text-anchor="middle">100</text><text x="952.24" y="889.1" text-anchor="middle">200</text><text x="1045.66" y="889.1" text-anchor="middle">300</text><text x="1139.08" y="889.1" text-anchor="middle">400</text><text x="1232.5" y="889.1" text-anchor="middle">500</text><text x="1325.92" y="889.1" text-anchor="middle">600</text><text x="752.4" y="857.8" text-anchor="end">−2</text><text x="752.4" y="805.9" text-anchor="end">0</text><text x="752.4" y="754" text-anchor="end">2</text><text x="752.4" y="702.1" text-anchor="end">4</text><text x="752.4" y="650.2" text-anchor="end">6</text><text x="752.4" y="598.3" text-anchor="end">8</text><text x="752.4" y="546.4" text-anchor="end">10</text><text x="752.4" y="494.5" text-anchor="end">12</text></g></g>
<g id="p6"><path id="h6" d="M1431.3 752.6H1477.45V780.1H1479.32V697.6H1481.19V752.6H1488.67V780.1H1490.54V752.6H1492.41V780.1H1494.28V752.6H1496.15V780.1H1498.02V752.6H1501.76V697.6H1503.63V752.6H1505.5V697.6H1507.37V532.6H1509.24V642.6H1511.11V752.6H1518.59V725.1H1520.46V780.1H1522.33V752.6H1533.55V780.1H1535.42V752.6H1559.73V697.6H1561.6V752.6H1576.56V725.1H1578.43V752.6H1580.3V780.1H1584.04V752.6H1591.52V780.1H1593.39V752.6H1595.26V780.1H1597.13V752.6H1599V587.6H1600.87V785.05H1602.74V697.6H1604.61V752.6H1608.35V780.1H1613.96V807.6H1615.83V752.6H1627.05V807.6H1628.92V752.6H1630.79V697.6H1632.66V752.6H1640.14V807.6H1642.01V752.6H1651.36V780.1H1653.23V752.6H1655.1V780.1H1656.97V752.6H1658.84V780.1H1660.71V752.6H1677.54V780.1H1679.41V752.6H1683.15V725.1H1685.02V697.6H1686.89V752.6H1688.76V780.1H1690.63V752.6H1698.11V780.1H1699.98V752.6H1703.72V697.6H1705.59V725.1H1707.46V752.6H1709.33V725.1H1711.2V837.85H1713.07V752.6H1718.68V697.6H1720.55V752.6H1735.51V780.1H1737.38V752.6H1742.99V780.1H1744.86V752.6H1746.73V780.1H1748.6V752.6H1756.08V697.6H1757.95V752.6H1767.3V780.1H1772.91V752.6H1802.83V697.6H1804.7V752.6H1857.06V780.1H1858.93V752.6H1860.8V780.1H1862.67V752.6H1870.15V697.6H1872.02V752.6H1875.76V780.1H1877.63V752.6H1879.5V780.1H1881.37V752.6H1896.33V780.1H1898.2V697.6H1900.07V752.6H1901.94V697.6H1905.68V752.6H1924.38V780.1H1926.25V752.6H1928.12V780.1H1929.99V752.6H1933.73V697.6H1935.6V752.6H1944.95V697.6H1946.82V752.6H2011" fill="none" stroke="#231f20" stroke-width="3.4" stroke-linejoin="miter" stroke-miterlimit="10"/><use href="#h6" x="-0.22"/><use href="#h6" x="0.22"/>
<path d="M1431.3 853.1v-11.5M1450 853.1v-5.5M1468.7 853.1v-5.5M1487.4 853.1v-5.5M1506.1 853.1v-5.5M1524.8 853.1v-11.5M1543.5 853.1v-5.5M1562.2 853.1v-5.5M1580.9 853.1v-5.5M1599.6 853.1v-5.5M1618.3 853.1v-11.5M1637 853.1v-5.5M1655.7 853.1v-5.5M1674.4 853.1v-5.5M1693.1 853.1v-5.5M1711.8 853.1v-11.5M1730.5 853.1v-5.5M1749.2 853.1v-5.5M1767.9 853.1v-5.5M1786.6 853.1v-5.5M1805.3 853.1v-11.5M1824 853.1v-5.5M1842.7 853.1v-5.5M1861.4 853.1v-5.5M1880.1 853.1v-5.5M1898.8 853.1v-11.5M1917.5 853.1v-5.5M1936.2 853.1v-5.5M1954.9 853.1v-5.5M1973.6 853.1v-5.5M1992.3 853.1v-11.5M2011 853.1v-5.5" fill="none" stroke="#231f20" stroke-width="3.7"/><path d="M1431.3 851.6h8.7M1431.3 840.6h8.7M1431.3 829.6h8.7M1431.3 818.6h8.7M1431.3 807.6h17.2M1431.3 796.6h8.7M1431.3 785.6h8.7M1431.3 774.6h8.7M1431.3 763.6h8.7M1431.3 752.6h17.2M1431.3 741.6h8.7M1431.3 730.6h8.7M1431.3 719.6h8.7M1431.3 708.6h8.7M1431.3 697.6h17.2M1431.3 686.6h8.7M1431.3 675.6h8.7M1431.3 664.6h8.7M1431.3 653.6h8.7M1431.3 642.6h17.2M1431.3 631.6h8.7M1431.3 620.6h8.7M1431.3 609.6h8.7M1431.3 598.6h8.7M1431.3 587.6h17.2M1431.3 576.6h8.7M1431.3 565.6h8.7M1431.3 554.6h8.7M1431.3 543.6h8.7M1431.3 532.6h17.2M1431.3 521.6h8.7M1431.3 510.6h8.7M1431.3 499.6h8.7M1431.3 488.6h8.7M1431.3 477.6h17.2" fill="none" stroke="#231f20" stroke-width="3.9"/>
<path d="M1429.5 474.2H2012.8M1429.5 853.1H2012.8" fill="none" stroke="#231f20" stroke-width="3.4"/><path d="M1431.3 474.2V853.1M2011 474.2V853.1" fill="none" stroke="#231f20" stroke-width="3.6"/>
<g font-size="28.8"><text x="1430.2" y="889.1" text-anchor="middle">0</text><text x="1523.7" y="889.1" text-anchor="middle">100</text><text x="1617.2" y="889.1" text-anchor="middle">200</text><text x="1710.7" y="889.1" text-anchor="middle">300</text><text x="1804.2" y="889.1" text-anchor="middle">400</text><text x="1897.7" y="889.1" text-anchor="middle">500</text><text x="1991.2" y="889.1" text-anchor="middle">600</text><text x="1417.7" y="815.4" text-anchor="end">−1</text><text x="1417.7" y="760.4" text-anchor="end">0</text><text x="1417.7" y="705.4" text-anchor="end">1</text><text x="1417.7" y="650.4" text-anchor="end">2</text><text x="1417.7" y="595.4" text-anchor="end">3</text><text x="1417.7" y="540.4" text-anchor="end">4</text><text x="1417.7" y="485.4" text-anchor="end">5</text></g></g>
<text x="645.6" y="51.8" text-anchor="end" font-size="24.75">Rn - 222 keV</text><text x="500.56" y="43.7" text-anchor="end" font-size="18.3" letter-spacing="0.3">224</text>
<text x="650.7" y="92.4" text-anchor="end" font-size="24.5">4<tspan font-size="18" dy="-8.1">+</tspan><tspan dy="11.6" dx="0" font-size="25.8" font-family='"Noto Sans CJK JP", sans-serif'>→</tspan><tspan dy="-3.5" dx="-0.3">2</tspan><tspan font-size="18" dy="-8.1">+</tspan></text>
<text x="1305.6" y="51.8" text-anchor="end" font-size="24.75">Rn - 328 keV</text><text x="1160.56" y="43.7" text-anchor="end" font-size="18.3" letter-spacing="0.3">224</text>
<text x="1310.7" y="92.4" text-anchor="end" font-size="24.5">8<tspan font-size="18" dy="-8.1">+</tspan><tspan dy="11.6" dx="0" font-size="25.8" font-family='"Noto Sans CJK JP", sans-serif'>→</tspan><tspan dy="-3.5" dx="-0.3">6</tspan><tspan font-size="18" dy="-8.1">+</tspan></text>
<text x="1970.8" y="51.8" text-anchor="end" font-size="24.75">Rn - 182 keV</text><text x="1825.76" y="43.7" text-anchor="end" font-size="18.3" letter-spacing="0.3">226</text>
<text x="1976.6" y="92.4" text-anchor="end" font-size="24.5">4<tspan font-size="18" dy="-8.1">+</tspan><tspan dy="11.6" dx="0" font-size="25.8" font-family='"Noto Sans CJK JP", sans-serif'>→</tspan><tspan dy="-3.5" dx="-0.3">2</tspan><tspan font-size="18" dy="-8.1">+</tspan></text>
<text x="645.6" y="521.2" text-anchor="end" font-size="24.75">Rn - 433 keV</text><text x="500.56" y="513.1" text-anchor="end" font-size="18.3" letter-spacing="0.3">224</text>
<text x="650.7" y="562" text-anchor="end" font-size="24.5">5<tspan font-size="18" dy="-8.1">−</tspan><tspan dy="11.6" dx="0" font-size="25.8" font-family='"Noto Sans CJK JP", sans-serif'>→</tspan><tspan dy="-3.5" dx="-0.3">4</tspan><tspan font-size="18" dy="-8.1">+</tspan></text>
<text x="1309.8" y="521.2" text-anchor="end" font-size="24.75">Rn - 308 keV</text><text x="1164.76" y="513.1" text-anchor="end" font-size="18.3" letter-spacing="0.3">224</text>
<text x="1315.2" y="556.2" text-anchor="end" font-size="24.5">9<tspan font-size="18" dy="-8.1">−</tspan><tspan dy="11.6" dx="0" font-size="25.8" font-family='"Noto Sans CJK JP", sans-serif'>→</tspan><tspan dy="-3.5" dx="-0.3">8</tspan><tspan font-size="18" dy="-8.1">+</tspan></text>
<text x="1975.3" y="515.9" text-anchor="end" font-size="24.75">Rn - 585 keV</text><text x="1830.26" y="507.8" text-anchor="end" font-size="18.3" letter-spacing="0.3">226</text>
<text x="1981.3" y="556.2" text-anchor="end" font-size="24.5">5<tspan font-size="18" dy="-8.1">−</tspan><tspan dy="11.6" dx="0" font-size="25.8" font-family='"Noto Sans CJK JP", sans-serif'>→</tspan><tspan dy="-3.5" dx="-0.3">4</tspan><tspan font-size="18" dy="-8.1">+</tspan></text>
<text x="1055.9" y="931.1" text-anchor="middle" font-size="29">Energy (keV)</text>
<text transform="translate(22.6 432.3) rotate(-90)" text-anchor="middle" font-size="31" textLength="219.3" lengthAdjust="spacingAndGlyphs">Counts per 2 keV</text>
<text x="224.6" y="67.5" text-anchor="middle" font-size="24.6">136</text>
<text x="362.4" y="131.3" text-anchor="middle" font-size="24.6">284</text>
<text x="404.9" y="290.9" text-anchor="middle" font-size="24.6">328</text>
<text x="437.6" y="324.8" text-anchor="middle" font-size="24.6">359</text>
<text x="505.3" y="339.2" text-anchor="middle" font-size="24.6">433</text>
<text x="165.2" y="179.8" font-size="25.8" font-style="italic">K</text>
<text x="181.0" y="188.0" font-size="18" font-family='"Liberation Serif", serif' textLength="11.6" lengthAdjust="spacingAndGlyphs">α</text>
<text x="891.4" y="80.7" text-anchor="middle" font-size="24.6">136</text>
<text x="972.7" y="73.5" text-anchor="middle" font-size="24.6">222</text>
<text x="1030.6" y="64.2" text-anchor="middle" font-size="24.6">284</text>
<text x="1056.0" y="292.6" text-anchor="middle" font-size="24.6">308</text>
<text x="1108.0" y="279.6" text-anchor="middle" font-size="24.6">359</text>
<text x="1131.5" y="323.5" text-anchor="middle" font-size="24.6">379</text>
<text x="831.4" y="232.8" font-size="25.8" font-style="italic">K</text>
<text x="847.2" y="241.0" font-size="18" font-family='"Liberation Serif", serif' textLength="11.6" lengthAdjust="spacingAndGlyphs">α</text>
<text x="1664.0" y="63.0" text-anchor="middle" font-size="24.6">249</text>
<text x="1708.8" y="228.6" text-anchor="middle" font-size="24.6">301</text>
<text x="1749.4" y="281.3" text-anchor="middle" font-size="24.6">342</text>
<text x="1783.1" y="324.5" text-anchor="middle" font-size="24.6">375</text>
<text x="1485.2" y="199.2" font-size="25.8" font-style="italic">K</text>
<text x="1501.0" y="207.4" font-size="18" font-family='"Liberation Serif", serif' textLength="11.6" lengthAdjust="spacingAndGlyphs">α</text>
<text x="1525.6" y="228.9" font-size="25.8" font-style="italic">K</text>
<text x="1541.4" y="237.1" font-size="18" font-family='"Liberation Serif", serif'>β</text>
<text x="1555.0" y="231.0" font-size="26">+</text>
<text x="1577.3" y="228.9" font-size="25.8" font-style="italic">96</text>
<path d="M1750.4 290.1V340" fill="none" stroke="#231f20" stroke-width="3.5" stroke-dasharray="4.3 10.75"/>
<text x="305.3" y="524.2" text-anchor="middle" font-size="24.6">222</text>
<text x="228.5" y="642.1" text-anchor="middle" font-size="24.6">136</text>
<text x="896.7" y="577.9" text-anchor="middle" font-size="24.6">136</text>
<text x="977.0" y="633.7" text-anchor="middle" font-size="24.6">222</text>
<text x="1030.0" y="548.4" text-anchor="middle" font-size="24.6">284</text>
<text x="1077.1" y="520.2" text-anchor="middle" font-size="24.6">328</text>
<text x="834.0" y="602.5" font-size="25.8" font-style="italic">K</text>
<text x="849.8" y="610.7" font-size="18" font-family='"Liberation Serif", serif' textLength="11.6" lengthAdjust="spacingAndGlyphs">α</text>
<text x="1601.5" y="569.6" text-anchor="middle" font-size="24.6">183</text>
<text x="1495.3" y="520.6" font-size="25.8" font-style="italic">K</text>
<text x="1511.1" y="528.8" font-size="18" font-family='"Liberation Serif", serif' textLength="11.6" lengthAdjust="spacingAndGlyphs">α</text>
</svg>
</body></html>
